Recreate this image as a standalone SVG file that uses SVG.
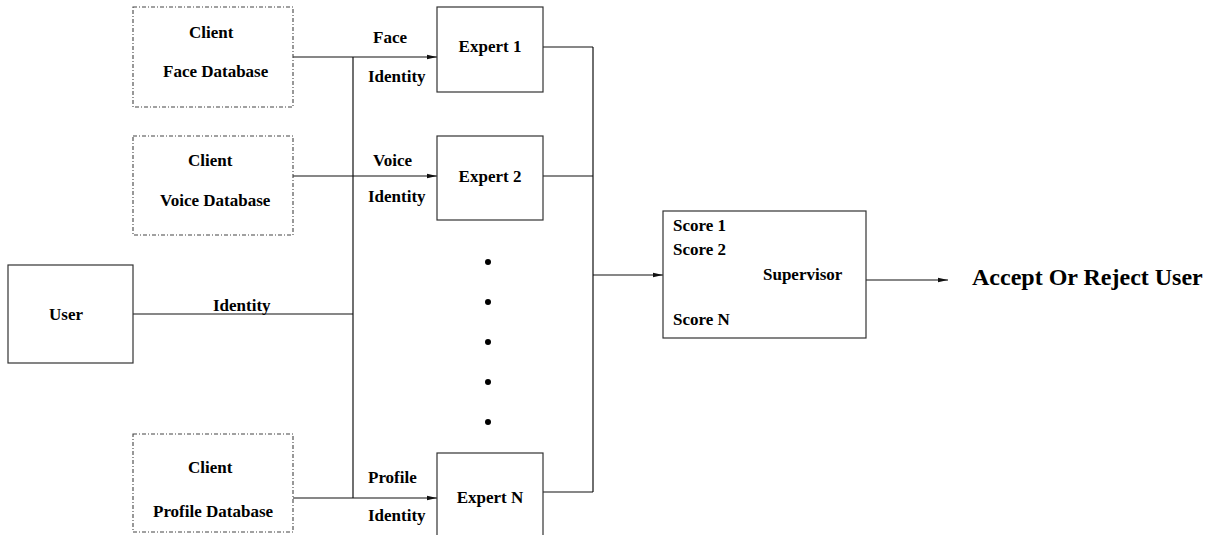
<svg xmlns="http://www.w3.org/2000/svg" width="1215" height="535" viewBox="0 0 1215 535">
<style>
text{font-family:"Liberation Serif","Times New Roman",serif;font-weight:bold;font-size:17px;fill:#000}
.box{fill:#fff;stroke:#333;stroke-width:1.2}
.db{fill:#fff;stroke:#444;stroke-width:1.1;stroke-dasharray:4,2,1,2}
.ln{fill:none;stroke:#111;stroke-width:1.2}
.c{text-anchor:middle}
</style>
<defs>
<marker id="ah" markerWidth="10" markerHeight="6" refX="10" refY="3" orient="auto" markerUnits="userSpaceOnUse">
<path d="M0,0.8 L10,3 L0,5.2 Z" fill="#111"/>
</marker>
</defs>
<rect width="1215" height="535" fill="#fff"/>
<g id="connectors">
<path class="ln" d="M293,57 H437" marker-end="url(#ah)"/>
<path class="ln" d="M293,176 H437" marker-end="url(#ah)"/>
<path class="ln" d="M293,498 H437" marker-end="url(#ah)"/>
<path class="ln" d="M353,57 V498"/>
<path class="ln" d="M133,314 H353"/>
<path class="ln" d="M543,47 H593 M543,176 H593 M543,492 H593 M593,47 V492"/>
<path class="ln" d="M593,275 H663" marker-end="url(#ah)"/>
<path class="ln" d="M866,280 H948" marker-end="url(#ah)"/>
<text x="373" y="43">Face</text>
<text x="368" y="82">Identity</text>
<text x="373" y="166">Voice</text>
<text x="368" y="202">Identity</text>
<text x="368" y="483">Profile</text>
<text x="368" y="521">Identity</text>
<text x="213" y="311">Identity</text>
</g>
<g id="face-db">
<rect class="db" x="133" y="7" width="160" height="100"/>
<text x="189" y="38">Client</text>
<text x="163" y="77">Face Database</text>
</g>
<g id="voice-db">
<rect class="db" x="133" y="136" width="160" height="99"/>
<text x="188" y="166">Client</text>
<text x="160" y="206">Voice Database</text>
</g>
<g id="profile-db">
<rect class="db" x="133" y="434" width="160" height="98"/>
<text x="188" y="473">Client</text>
<text x="153" y="517">Profile Database</text>
</g>
<g id="user">
<rect class="box" x="8" y="265" width="125" height="98"/>
<text class="c" x="66" y="320">User</text>
</g>
<g id="expert1">
<rect class="box" x="437" y="7" width="106" height="85"/>
<text class="c" x="490" y="52">Expert 1</text>
</g>
<g id="expert2">
<rect class="box" x="437" y="136" width="106" height="84"/>
<text class="c" x="490" y="182">Expert 2</text>
</g>
<g id="dots" fill="#000">
<circle cx="488" cy="262" r="3"/>
<circle cx="488" cy="302" r="3"/>
<circle cx="488" cy="342" r="3"/>
<circle cx="488" cy="382" r="3"/>
<circle cx="488" cy="422" r="3"/>
</g>
<g id="expertN">
<rect class="box" x="437" y="453" width="106" height="90"/>
<text class="c" x="490" y="503">Expert N</text>
</g>
<g id="supervisor">
<rect class="box" x="663" y="211" width="203" height="127"/>
<text x="673" y="231">Score 1</text>
<text x="673" y="255">Score 2</text>
<text x="763" y="280">Supervisor</text>
<text x="673" y="325">Score N</text>
</g>
<g id="result">
<text x="972" y="285" style="font-size:24px">Accept Or Reject User</text>
</g>
</svg>
